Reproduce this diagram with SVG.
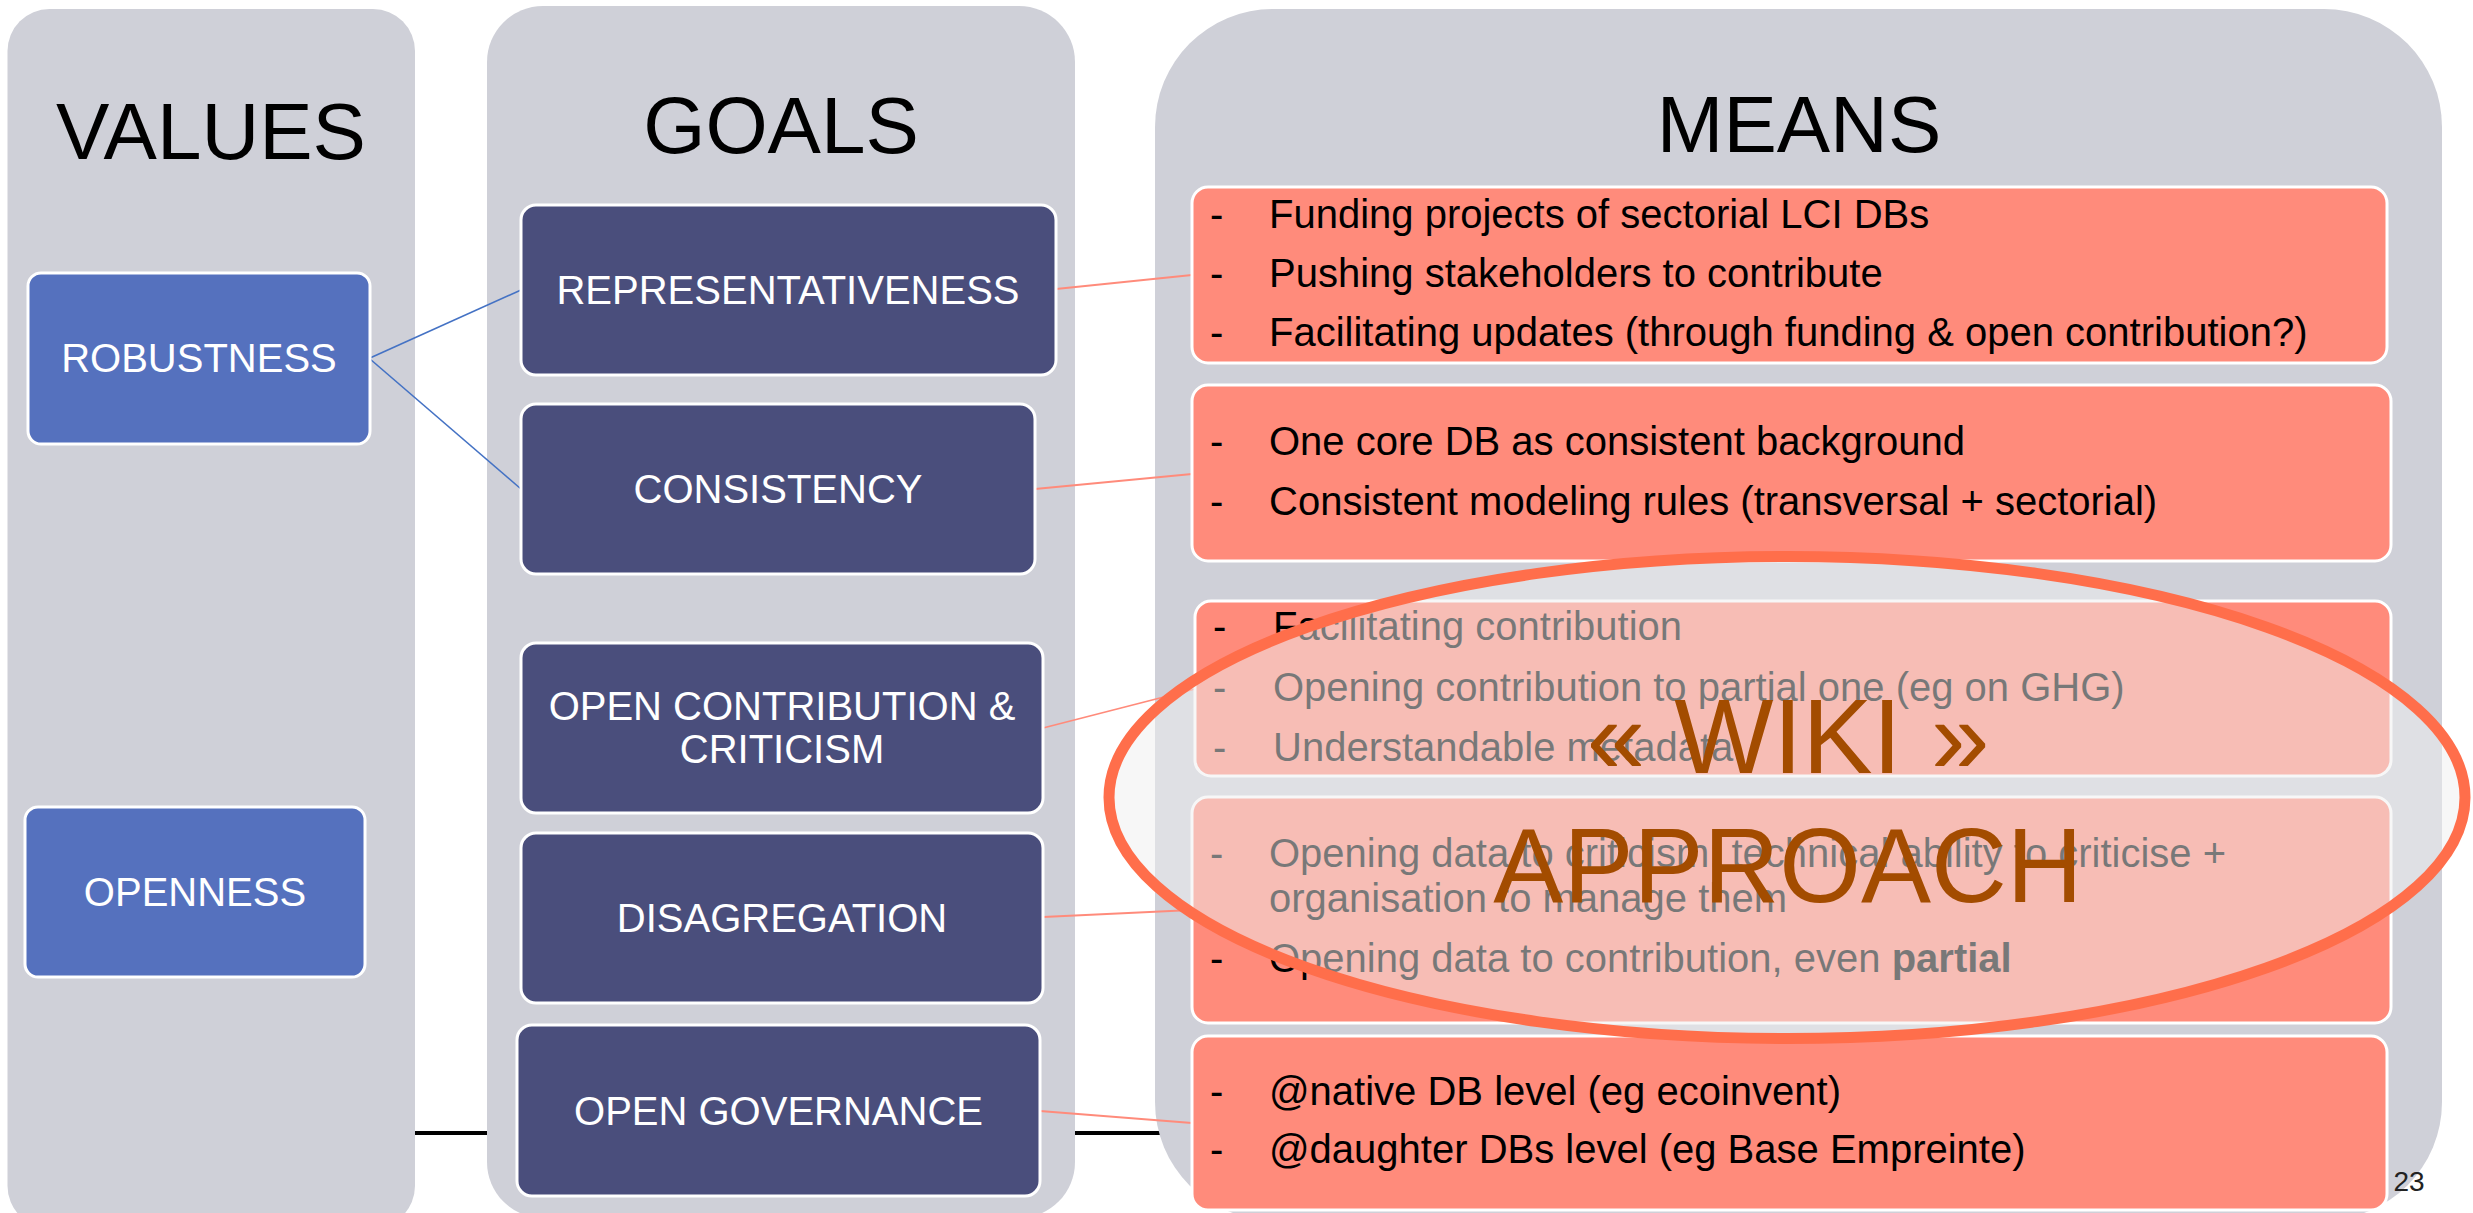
<svg xmlns="http://www.w3.org/2000/svg" width="2473" height="1213" viewBox="0 0 2473 1213">
<style>
text{font-family:"Liberation Sans",Arial,sans-serif}
.col{fill:#CFD0D8}
.title{font-size:80px;fill:#000;text-anchor:middle}
.val{fill:#5571BE;stroke:#fff;stroke-width:3}
.goal{fill:#4A4E7C;stroke:#fff;stroke-width:3}
.mean{fill:#FF8B7B;stroke:#fff;stroke-width:3}
.nt{font-size:40px;fill:#fff;text-anchor:middle}
.mt{font-size:40px;fill:#000}
.blue{stroke:#4472C4;stroke-width:1.6;fill:none}
.sal{stroke:#FF8B7B;stroke-width:1.8;fill:none}
.wiki{font-size:105px;fill:#A34C00;text-anchor:middle}
</style>
<rect width="2473" height="1213" fill="#fff"/>
<line x1="400" y1="1133" x2="1175" y2="1133" stroke="#000" stroke-width="4"/>
<g id="col-values"><rect class="col" x="7.5" y="9" width="407.5" height="1219" rx="42"/><text class="title" x="211" y="159">VALUES</text></g>
<g id="col-goals"><rect class="col" x="487" y="6" width="588" height="1212" rx="56"/><text class="title" x="781" y="153">GOALS</text></g>
<g id="col-means"><rect class="col" x="1155" y="9" width="1287" height="1211" rx="118"/><text class="title" x="1799" y="152">MEANS</text></g>
<g id="connectors">
<line class="blue" x1="370" y1="358" x2="521" y2="290"/>
<line class="blue" x1="370" y1="359" x2="521" y2="489"/>
<line class="sal" x1="1056" y1="289" x2="1192" y2="275"/>
<line class="sal" x1="1035" y1="489" x2="1192" y2="474"/>
<line class="sal" x1="1043" y1="728" x2="1195" y2="689"/>
<line class="sal" x1="1043" y1="917" x2="1192" y2="910"/>
<line class="sal" x1="1040" y1="1111" x2="1192" y2="1123"/>
</g>
<g id="robustness"><rect class="val" x="28" y="273" width="342" height="171" rx="13"/><text class="nt" x="199" y="372">ROBUSTNESS</text></g>
<g id="openness"><rect class="val" x="25" y="807" width="340" height="170" rx="13"/><text class="nt" x="195" y="906">OPENNESS</text></g>
<g id="representativeness"><rect class="goal" x="521" y="205" width="535" height="170" rx="15"/><text class="nt" x="788" y="304">REPRESENTATIVENESS</text></g>
<g id="consistency"><rect class="goal" x="521" y="404" width="514" height="170" rx="15"/><text class="nt" x="778" y="503">CONSISTENCY</text></g>
<g id="open-contribution"><rect class="goal" x="521" y="643" width="522" height="170" rx="15"/><text class="nt" x="782" y="720">OPEN CONTRIBUTION &amp;</text><text class="nt" x="782" y="763">CRITICISM</text></g>
<g id="disagregation"><rect class="goal" x="521" y="833" width="522" height="170" rx="15"/><text class="nt" x="782" y="932">DISAGREGATION</text></g>
<g id="open-governance"><rect class="goal" x="517" y="1025" width="523" height="171" rx="15"/><text class="nt" x="778.5" y="1125">OPEN GOVERNANCE</text></g>
<g id="means-1"><rect class="mean" x="1192" y="187" width="1195" height="176" rx="16"/>
<text class="mt" x="1210" y="228">-</text><text class="mt" x="1269" y="228">Funding projects of sectorial LCI DBs</text>
<text class="mt" x="1210" y="287">-</text><text class="mt" x="1269" y="287">Pushing stakeholders to contribute</text>
<text class="mt" x="1210" y="346">-</text><text class="mt" x="1269" y="346">Facilitating updates (through funding &amp; open contribution?)</text></g>
<g id="means-2"><rect class="mean" x="1192" y="385" width="1199" height="176" rx="16"/>
<text class="mt" x="1210" y="455">-</text><text class="mt" x="1269" y="455">One core DB as consistent background</text>
<text class="mt" x="1210" y="515">-</text><text class="mt" x="1269" y="515">Consistent modeling rules (transversal + sectorial)</text></g>
<g id="means-3"><rect class="mean" x="1195" y="601" width="1196" height="175" rx="16"/>
<text class="mt" x="1213" y="640">-</text><text class="mt" x="1273" y="640">Facilitating contribution</text>
<text class="mt" x="1213" y="701">-</text><text class="mt" x="1273" y="701">Opening contribution to partial one (eg on GHG)</text>
<text class="mt" x="1213" y="761">-</text><text class="mt" x="1273" y="761">Understandable metadata</text></g>
<g id="means-4"><rect class="mean" x="1192" y="797" width="1199" height="226" rx="16"/>
<text class="mt" x="1210" y="867">-</text><text class="mt" x="1269" y="867">Opening data to criticism: technical ability to criticise +</text>
<text class="mt" x="1269" y="912">organisation to manage them</text>
<text class="mt" x="1210" y="972">-</text><text class="mt" x="1269" y="972">Opening data to contribution, even <tspan font-weight="bold">partial</tspan></text></g>
<g id="means-5"><rect class="mean" x="1192" y="1036" width="1195" height="174" rx="16"/>
<text class="mt" x="1210" y="1105">-</text><text class="mt" x="1269" y="1105">@native DB level (eg ecoinvent)</text>
<text class="mt" x="1210" y="1163">-</text><text class="mt" x="1269" y="1163">@daughter DBs level (eg Base Empreinte)</text></g>
<g id="wiki-approach">
<ellipse cx="1787" cy="797.5" rx="678" ry="241" fill="#F0F0F0" fill-opacity="0.5" stroke="#FF6E4B" stroke-width="11"/>
<text class="wiki" x="1788" y="773">« WIKI »</text>
<text class="wiki" x="1788" y="902">APPROACH</text>
</g>
<text x="2409" y="1191" font-size="28" fill="#222" text-anchor="middle">23</text>
</svg>
